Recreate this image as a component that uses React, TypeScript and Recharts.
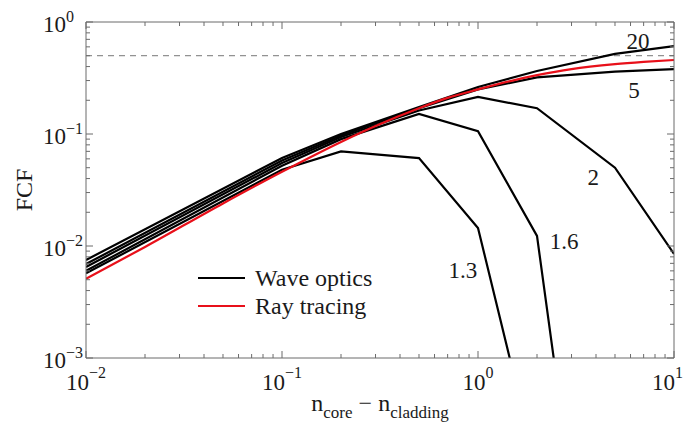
import React from 'react';
import { LineChart, Line, XAxis, YAxis, ReferenceLine, ReferenceDot, Legend } from 'recharts';

// wave optics curves, one per core/cladding index ratio
const X_WAVE = [0.01, 0.1, 0.2, 0.5, 1, 2, 5, 10];
const WAVE_13 = [0.0057, 0.048, 0.07, 0.061, 0.0145, 0.0001, null, null];
const WAVE_16 = [0.006, 0.052, 0.09, 0.151, 0.106, 0.0123, 1e-7, null];
const WAVE_2 = [0.0065, 0.055, 0.094, 0.162, 0.214, 0.17, 0.05, 0.0085];
const WAVE_5 = [0.0069, 0.058, 0.097, 0.17, 0.25, 0.32, 0.36, 0.38];
const WAVE_20 = [0.0075, 0.061, 0.1, 0.174, 0.263, 0.365, 0.52, 0.61];

// ray tracing result
const X_RAY = [0.01, 0.02, 0.05, 0.1, 0.2, 0.3, 0.5, 0.7, 1, 1.5, 2, 3, 5, 7, 10];
const RAY = [0.0051, 0.0098, 0.024, 0.046, 0.085, 0.118, 0.17, 0.21, 0.25, 0.3, 0.335, 0.38, 0.42, 0.44, 0.458];

const LIMIT = 0.5;

// curve labels (text, x, y in data units)
const LABEL_TEXT = ['20', '5', '2', '1.6', '1.3'];
const LABEL_X = [6.55, 6.25, 3.87, 2.75, 0.837];
const LABEL_Y = [0.677, 0.247, 0.0413, 0.0111, 0.0061];

const FONT = '"Liberation Serif", "Times New Roman", serif';
const AXIS = '#6b6b6b';
const INK = '#1a1a1a';
const RED = '#e8101a';

const series = (xs: number[], ys: (number | null)[]) =>
  xs.map((x, i) => ({ x, y: ys[i] })).filter(p => p.y !== null);

const logTicks = (lo: number, hi: number) => {
  const out: number[] = [];
  for (let e = lo; e < hi; e++) for (let k = 1; k < 10; k++) out.push(+(k * Math.pow(10, e)).toPrecision(3));
  out.push(Math.pow(10, hi));
  return out;
};
const X_TICKS = logTicks(-2, 1);
const Y_TICKS = logTicks(-3, 0);

const isMajor = (v: number) => Math.abs(Math.log10(v) - Math.round(Math.log10(v))) < 1e-6;
const expText = (v: number) => {
  const e = Math.round(Math.log10(v));
  return e < 0 ? `\u2212${-e}` : `${e}`;
};

// axes are 1px thick boxes; ticks are drawn inward by hand
function BottomTick({ x, y, payload }: any) {
  const v = payload.value;
  const major = isMajor(v);
  // last label would run off the page edge, so right-align it
  const last = v >= 10;
  return (
    <g>
      <line x1={x} x2={x} y1={y} y2={y - (major ? 7 : 4)} stroke={AXIS} />
      {major && (
        <text x={last ? 683 : x} y={y + 32} textAnchor={last ? 'end' : 'middle'} fontFamily={FONT} fontSize={23} fill={INK}>
          10<tspan dy={-12} fontSize={16}>{expText(v)}</tspan>
        </text>
      )}
    </g>
  );
}

function TopTick({ x, y, payload }: any) {
  const major = isMajor(payload.value);
  return <line x1={x} x2={x} y1={y} y2={y + (major ? 7 : 4)} stroke={AXIS} />;
}

function LeftTick({ x, y, payload }: any) {
  const v = payload.value;
  const major = isMajor(v);
  return (
    <g>
      <line x1={x} x2={x + (major ? 7 : 4)} y1={y} y2={y} stroke={AXIS} />
      {major && (
        <text x={x - 43} y={y + 10} textAnchor="start" fontFamily={FONT} fontSize={23} fill={INK}>
          10<tspan dy={-10} fontSize={16}>{expText(v)}</tspan>
        </text>
      )}
    </g>
  );
}

function RightTick({ x, y, payload }: any) {
  const major = isMajor(payload.value);
  return <line x1={x} x2={x - (major ? 7 : 4)} y1={y} y2={y} stroke={AXIS} />;
}

function LegendBox() {
  const items = [
    { name: 'Wave optics', color: '#000' },
    { name: 'Ray tracing', color: RED },
  ];
  return (
    <div style={{ fontFamily: FONT, fontSize: 24, color: INK }}>
      {items.map(it => (
        <div key={it.name} style={{ display: 'flex', alignItems: 'center', height: 28 }}>
          <span style={{ width: 47, height: 2.5, background: it.color, marginRight: 10, display: 'inline-block' }} />
          {it.name}
        </div>
      ))}
    </div>
  );
}

const waves = [
  { id: '1.3', data: series(X_WAVE, WAVE_13) },
  { id: '1.6', data: series(X_WAVE, WAVE_16) },
  { id: '2', data: series(X_WAVE, WAVE_2) },
  { id: '5', data: series(X_WAVE, WAVE_5) },
  { id: '20', data: series(X_WAVE, WAVE_20) },
];
const rayData = series(X_RAY, RAY);

export default function App() {
  return (
    <div style={{ position: 'absolute', left: 0, top: 0, width: 685, height: 430, background: '#fff', fontFamily: FONT }}>
      <LineChart width={685} height={430} margin={{ top: 21, right: 10, bottom: 71, left: 85 }}>
        <XAxis xAxisId="b" type="number" dataKey="x" scale="log" domain={[0.01, 10]} allowDataOverflow
          ticks={X_TICKS} interval={0} height={1} tickSize={0} tickMargin={0} tickLine={false}
          axisLine={{ stroke: AXIS }} tick={<BottomTick />} />
        <XAxis xAxisId="t" orientation="top" type="number" dataKey="x" scale="log" domain={[0.01, 10]} allowDataOverflow
          ticks={X_TICKS} interval={0} height={1} tickSize={0} tickMargin={0} tickLine={false}
          axisLine={{ stroke: AXIS }} tick={<TopTick />} />
        <YAxis yAxisId="l" type="number" dataKey="y" scale="log" domain={[0.001, 1]} allowDataOverflow
          ticks={Y_TICKS} interval={0} width={1} tickSize={0} tickMargin={0} tickLine={false}
          axisLine={{ stroke: AXIS }} tick={<LeftTick />} />
        <YAxis yAxisId="r" orientation="right" type="number" dataKey="y" scale="log" domain={[0.001, 1]} allowDataOverflow
          ticks={Y_TICKS} interval={0} width={1} tickSize={0} tickMargin={0} tickLine={false}
          axisLine={{ stroke: AXIS }} tick={<RightTick />} />
        <ReferenceLine xAxisId="b" yAxisId="l" y={LIMIT} stroke="#777" strokeDasharray="6 5" strokeWidth={1} />
        {waves.map(w => (
          <Line key={w.id} xAxisId="b" yAxisId="l" data={w.data} dataKey="y" name={w.id} type="linear"
            stroke="#000" strokeWidth={2.2} dot={false} isAnimationActive={false} legendType="none" />
        ))}
        <Line xAxisId="b" yAxisId="l" data={rayData} dataKey="y" name="Ray tracing" type="monotone"
          stroke={RED} strokeWidth={2.2} dot={false} isAnimationActive={false} />
        {LABEL_TEXT.map((t, i) => (
          <ReferenceDot key={t} xAxisId="b" yAxisId="l" x={LABEL_X[i]} y={LABEL_Y[i]} r={0}
            fill="none" stroke="none"
            label={{ value: t, position: 'center', fontFamily: FONT, fontSize: 23, fill: INK }} />
        ))}
        <Legend layout="vertical" align="center" verticalAlign="middle" content={<LegendBox />}
          wrapperStyle={{ position: 'absolute', left: 198, top: 264, width: 'auto' }} />
      </LineChart>
      <div style={{ position: 'absolute', left: 12, top: 190, width: 0, height: 0 }}>
        <div style={{ position: 'absolute', transform: 'translate(-50%, -50%) rotate(-90deg)', fontSize: 24, color: INK, whiteSpace: 'nowrap', left: 12 }}>
          FCF
        </div>
      </div>
      <div style={{ position: 'absolute', left: 86, width: 588, top: 390, textAlign: 'center', fontSize: 24, color: INK, lineHeight: '26px' }}>
        n<sub style={{ fontSize: 17, verticalAlign: '-7px' }}>core</sub> {'\u2212'} n<sub style={{ fontSize: 17, verticalAlign: '-7px' }}>cladding</sub>
      </div>
    </div>
  );
}
